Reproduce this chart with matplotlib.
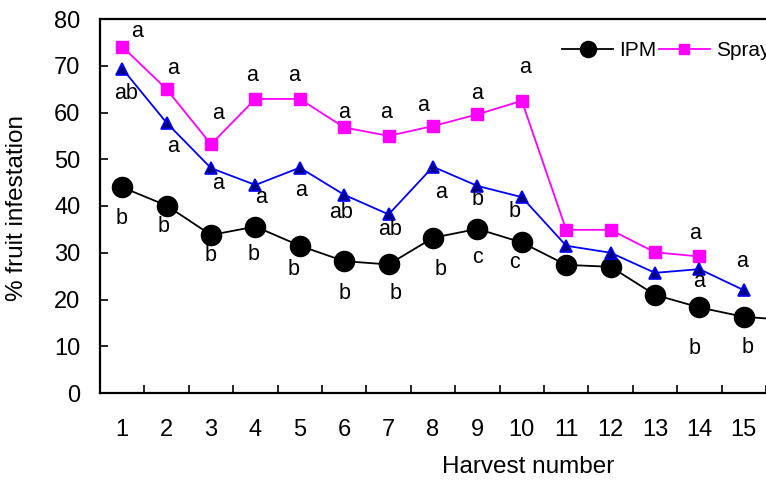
import matplotlib
matplotlib.use("Agg")
import matplotlib.pyplot as plt

plt.rcParams["font.family"] = ["Liberation Sans", "DejaVu Sans"]

# harvest numbers and % fruit infestation per treatment
harvest = list(range(1, 17))
ipm = [44.0, 40.1, 33.8, 35.6, 31.5, 28.2, 27.5, 33.2, 35.1, 32.2,
       27.4, 27.0, 21.0, 18.3, 16.3, 15.6]
spray = [74.1, 65.0, 53.2, 62.9, 62.9, 56.8, 55.0, 57.1, 59.6, 62.5,
         34.9, 34.9, 30.1, 29.2]
treatment3 = [69.4, 57.8, 48.1, 44.5, 48.2, 42.4, 38.2, 48.4, 44.3, 41.9,
              31.5, 30.0, 25.7, 26.5, 22.0]

# mean separation letters
ipm_letters = ["b", "b", "b", "b", "b", "b", "b", "b", "c", "c",
               "", "", "", "b", "b", ""]
spray_letters = ["a", "a", "a", "a", "a", "a", "a", "a", "a", "a",
                 "", "", "", "a"]
treatment3_letters = ["ab", "a", "a", "a", "a", "ab", "ab", "a", "b", "b",
                      "", "", "", "a", "a"]

x_ticklabels = [str(i) for i in range(1, 16)]
y_ticks = list(range(0, 81, 10))

# letter offsets from their marker, in pixels (x right, y up)
ipm_offsets = [(-1, -31), (-3, -21), (0, -21), (-2, -28), (-6, -24), (0, -32),
               (7, -29), (8, -32), (0, -29), (-7, -20), (0, 0), (0, 0),
               (0, 0), (-5, -41), (4, -31), (0, 0)]
spray_offsets = [(15, 15), (6, 21), (7, 31), (-3, 23), (-6, 23), (0, 15),
                 (-3, 23), (-10, 21), (0, 21), (3, 33), (0, 0), (0, 0),
                 (0, 0), (-4, 23)]
treatment3_offsets = [(4, -25), (6, -24), (7, -15), (6, -13), (1, -23),
                      (-3, -18), (1, -15), (8, -26), (0, -14), (-7, -14),
                      (0, 0), (0, 0), (0, 0), (0, -12), (-2, 29)]

W, H = 766, 483
fig = plt.figure(figsize=(W / 100, H / 100), dpi=100)
# plot area runs past the right edge of the figure
step = 44.4
x_max = 19.5
ax = fig.add_axes([100 / W, 1 - 393 / H, (x_max - 0.5) * step / W, 374 / H])

ax.plot(harvest[:len(ipm)], ipm, color="black", lw=1.3, marker="o",
        ms=14.5, mfc="black", mec="black", label="IPM", zorder=3)
ax.plot(harvest[:len(spray)], spray, color="#FF00FF", lw=1.3, marker="s",
        ms=9.2, mfc="#FF00FF", mec="#FF00FF", label="Spray", zorder=4)
ax.plot(harvest[:len(treatment3)], treatment3, color="#0000FF", lw=1.3,
        marker="^", ms=8.5, mfc="#000080", mec="#0000FF", mew=1.2, zorder=5)

for xs, ys, letters, offsets in [
        (harvest, ipm, ipm_letters, ipm_offsets),
        (harvest, spray, spray_letters, spray_offsets),
        (harvest, treatment3, treatment3_letters, treatment3_offsets)]:
    for xv, yv, txt, off in zip(xs, ys, letters, offsets):
        if txt:
            ax.annotate(txt, (xv, yv), xytext=off, textcoords="offset pixels",
                        ha="center", va="center", fontsize=15.5,
                        color="black", zorder=6)

ax.set_xlim(0.5, x_max)
ax.set_ylim(0, 80)

ax.set_xticks(range(1, 16))
ax.set_xticklabels(x_ticklabels)
ax.set_xticks([i + 0.5 for i in range(0, 20)], minor=True)
ax.tick_params(axis="x", which="major", length=0, pad=18.5, labelsize=17)
ax.tick_params(axis="x", which="minor", direction="in", length=6,
               width=1.2)
ax.set_yticks(y_ticks)
ax.tick_params(axis="y", direction="in", length=5.5, width=1.2, pad=14,
               labelsize=17)

for side in ["left", "bottom", "top", "right"]:
    ax.spines[side].set_linewidth(1.6)

ax.set_xlabel("Harvest number", fontsize=17.5)
ax.xaxis.set_label_coords(528 / W, 1 - 467 / H, transform=fig.transFigure)
ax.xaxis.label.set_va("center")
ax.set_ylabel("% fruit infestation", fontsize=17.5)
ax.yaxis.set_label_coords(17 / W, 1 - 208 / H, transform=fig.transFigure)
ax.yaxis.label.set_va("center")

ax.legend(loc="center left", bbox_to_anchor=(562 / W, 1 - 50.7 / H),
          bbox_transform=fig.transFigure, ncol=3, frameon=False,
          fontsize=15, handlelength=2.45, handletextpad=0.3,
          columnspacing=0.1, borderpad=0, borderaxespad=0, markerscale=0.8)

fig.savefig("out.png", dpi=100)
